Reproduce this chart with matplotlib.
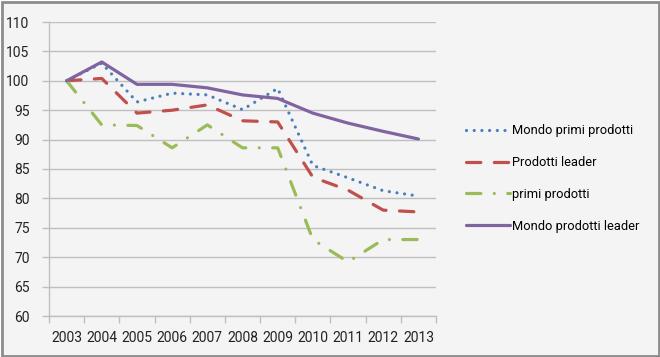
import matplotlib
matplotlib.use('Agg')
import matplotlib.pyplot as plt
from matplotlib.patches import Rectangle

plt.rcParams['font.family'] = ['Roboto', 'DejaVu Sans']

# Données
anni = ['2003', '2004', '2005', '2006', '2007', '2008', '2009', '2010', '2011', '2012', '2013']
mondo_primi = [100, 103.0, 96.4, 97.9, 97.6, 95.1, 98.7, 85.6, 83.5, 81.3, 80.4]
prodotti_leader = [100, 100.4, 94.5, 95.0, 95.9, 93.2, 93.0, 83.6, 81.4, 78.0, 77.7]
primi_prodotti = [100, 92.5, 92.4, 88.6, 92.5, 88.6, 88.6, 73.0, 69.2, 73.0, 73.0]
mondo_leader = [100, 103.2, 99.4, 99.4, 98.8, 97.6, 97.0, 94.5, 92.8, 91.4, 90.1]

fig = plt.figure(figsize=(6.6, 3.57), dpi=100)
fig.patch.set_facecolor('white')
fig.patches.append(Rectangle((1.5 / 660, 1.5 / 357), 1 - 3 / 660, 1 - 3 / 357,
                             transform=fig.transFigure, facecolor='#f4f4f4',
                             edgecolor='#8c8c8c', linewidth=2, zorder=-10))

ax = fig.add_axes([49 / 660, 41 / 357, 387 / 660, 294 / 357])
ax.set_facecolor('none')

x = list(range(len(anni)))
ax.plot(x, mondo_primi, color='#4a7ebb', lw=2.3, linestyle=(0, (0.01, 2.4)),
        dash_capstyle='round', label='Mondo primi prodotti', zorder=3)
ax.plot(x, prodotti_leader, color='#c0504d', lw=2.3, linestyle=(0, (4.5, 4.2)),
        dash_capstyle='round', label='Prodotti leader', zorder=3)
ax.plot(x, primi_prodotti, color='#9bbb59', lw=2.3, linestyle=(0, (4.5, 4.2, 0.01, 4.2)),
        dash_capstyle='round', label='primi prodotti', zorder=3)
ax.plot(x, mondo_leader, color='#8064a2', lw=2.3, solid_capstyle='round',
        label='Mondo prodotti leader', zorder=4)

ax.set_xlim(-0.5, len(anni) - 0.5)
ax.set_ylim(60, 110)
ax.set_yticks(range(60, 111, 5))
ax.set_xticks(x)
ax.set_xticklabels(anni)
ax.set_xticks([i - 0.5 for i in range(len(anni) + 1)], minor=True)
ax.tick_params(axis='x', which='major', length=0, pad=11, labelsize=10, colors='#222222')
ax.tick_params(axis='x', which='minor', length=5, color='#bfbfbf', width=1)
ax.tick_params(axis='y', length=5, color='#bfbfbf', width=1, pad=9, labelsize=10, labelcolor='#222222')

ax.grid(axis='y', color='#bfbfbf', lw=1)
ax.set_axisbelow(True)
for s in ['top', 'right']:
    ax.spines[s].set_visible(False)
for s in ['left', 'bottom']:
    ax.spines[s].set_color('#bfbfbf')
    ax.spines[s].set_linewidth(1)

ax.legend(loc='center left', bbox_to_anchor=(466 / 660, 0.5), bbox_transform=fig.transFigure,
          frameon=False, fontsize=9.3, handlelength=3.4, handletextpad=0.2,
          labelspacing=1.45, borderpad=0, borderaxespad=0)

fig.savefig('out.png', dpi=100, facecolor=fig.get_facecolor())
